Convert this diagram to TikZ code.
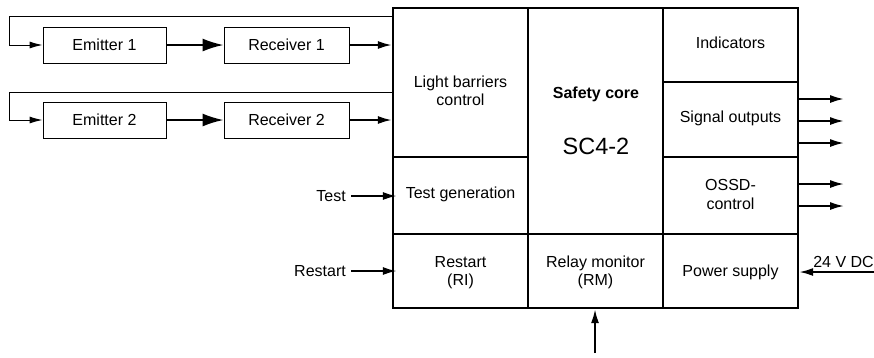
\documentclass[tikz,border=0pt]{standalone}
\usepackage{fontspec}
\setmainfont{Liberation Sans}
\usetikzlibrary{arrows.meta}
\begin{document}
\begin{tikzpicture}[x=1pt,y=-1pt,
  every node/.style={font=\fontsize{16}{18.5}\selectfont, align=center},
  cell/.style={draw, line width=2.2pt, inner sep=0pt, minimum width=135pt},
  unit/.style={draw, line width=0.9pt, inner sep=0pt, minimum height=36pt},
  thinarrow/.style={line width=1pt, -{Latex[length=13pt,width=7pt]}},
  bigarrow/.style={line width=2pt, -{Latex[length=21pt,width=13pt]}},
  medarrow/.style={line width=2pt, -{Latex[length=14pt,width=8pt]}},
  txt/.style={inner sep=0pt}
]
\useasboundingbox (0,0) rectangle (874,357);

% main block cells
\node[cell, minimum height=149pt] (lbc) at (460.5,82.5) {};
\node[cell, minimum height=77pt] (tg) at (460.5,195.5) {};
\node[cell, minimum height=74pt] (ri) at (460.5,271) {};
\node[cell, minimum height=226pt] (core) at (595.5,121) {};
\node[cell, minimum height=74pt] (rm) at (595.5,271) {};
\node[cell, minimum height=74pt] (ind) at (730.5,45) {};
\node[cell, minimum height=75pt] (so) at (730.5,119.5) {};
\node[cell, minimum height=77pt] (ossd) at (730.5,195.5) {};
\node[cell, minimum height=74pt] (ps) at (730.5,271) {};

% cell texts
\node[txt] (lbct) at ([yshift=-8.5pt]lbc.center) {Light barriers\\control};
\node[txt] (tgt) at ([yshift=1.5pt]tg.center) {Test generation};
\node[txt] (rit) at ([yshift=-1.5pt]ri.center) {Restart\\(RI)};
\node[txt] (sct) at (596,94) {\bfseries Safety core};
\node[txt] (scn) at (596,146) {\fontsize{23.5}{26}\selectfont SC4-2};
\node[txt] (rmt) at ([yshift=-1.5pt]rm.center) {Relay monitor\\(RM)};
\node[txt] (indt) at ([yshift=2pt]ind.center) {Indicators};
\node[txt] (sot) at ([yshift=1.5pt]so.center) {Signal outputs};
\node[txt] (ossdt) at ([yshift=1pt]ossd.center) {OSSD-\\control};
\node[txt] (pst) at ([yshift=-1pt]ps.center) {Power supply};

% emitters and receivers
\node[unit, minimum width=123pt] (e1) at (104.5,45) {Emitter 1};
\node[unit, minimum width=125pt] (r1) at (286.5,45) {Receiver 1};
\node[unit, minimum width=123pt] (e2) at (104.5,120) {Emitter 2};
\node[unit, minimum width=125pt] (r2) at (286.5,120) {Receiver 2};

% feedback loops
\coordinate (f1) at (392,16);
\coordinate (c1) at (9,16);
\draw[thinarrow] (f1) -- (c1) |- (e1.west);
\coordinate (f2) at (392,92);
\coordinate (c2) at (9,92);
\draw[thinarrow] (f2) -- (c2) |- (e2.west);

\draw[bigarrow] (e1.east) -- (r1.west);
\draw[bigarrow] (e2.east) -- (r2.west);
\draw[medarrow] (r1.east) -- (r1.east -| lbc.west);
\draw[medarrow] (r2.east) -- (r2.east -| lbc.west);

% inputs
\node[txt, anchor=east] (test) at (346,196) {Test};
\draw[medarrow] ([xshift=5pt]test.east) -- ([xshift=5pt]test.east -| tg.west);
\node[txt, anchor=east] (restart) at (346,271) {Restart};
\draw[medarrow] ([xshift=5pt]restart.east) -- ([xshift=5pt]restart.east -| ri.west);

% outputs
\foreach \s in {20.5,-1.5,-23.5}{
  \draw[medarrow] ([yshift=\s pt]so.east) -- ++(45,0);
}
\foreach \s in {11.5,-10.5}{
  \draw[medarrow] ([yshift=\s pt]ossd.east) -- ++(45,0);
}

% 24 V DC
\node[txt, anchor=base east] (dc) at (874,267) {24 V DC};
\coordinate (dcs) at (874,272);
\draw[medarrow] (dcs) -- (dcs -| ps.east);

% relay monitor input
\coordinate (rmin) at (595,353);
\draw[medarrow] (rmin) -- (rmin |- rm.south);
\end{tikzpicture}
\end{document}
